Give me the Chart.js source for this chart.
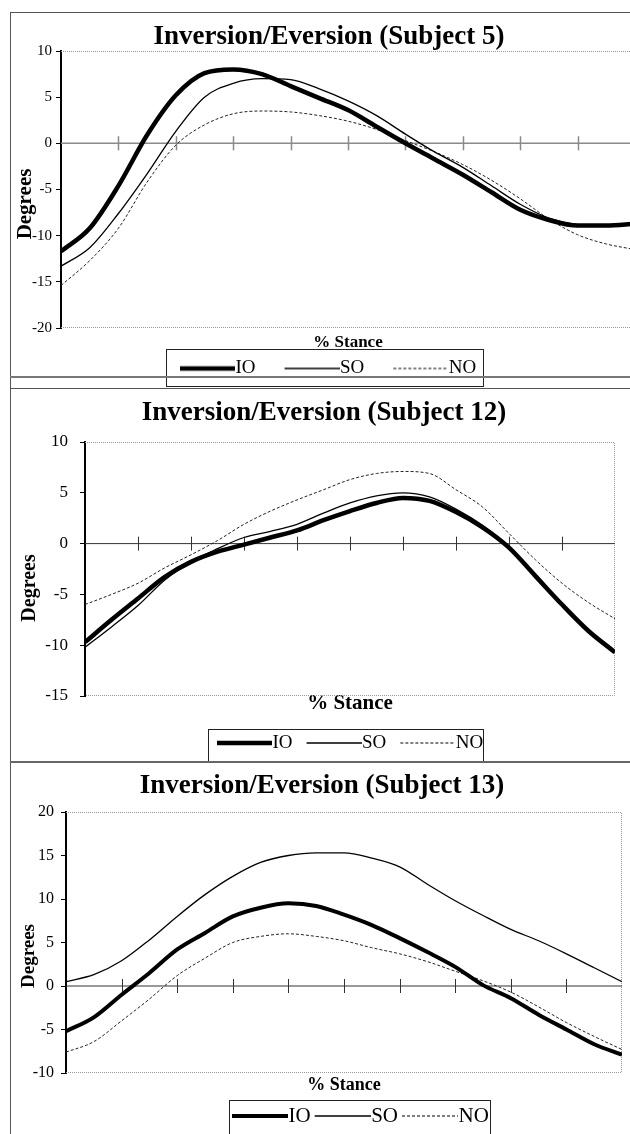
<!DOCTYPE html>
<html>
<head>
<meta charset="utf-8">
<script src="https://cdn.jsdelivr.net/npm/chart.js@4.4.1/dist/chart.umd.min.js"></script>
<style>
  html, body { margin:0; padding:0; background:#fff; overflow:hidden; }
  body { width:630px; height:1134px; position:relative; }
  canvas { position:absolute; left:0; }
  .ln { position:absolute; background:#555; }
</style>
</head>
<body>
<canvas id="c5"  width="650" height="388" style="top:0"></canvas>
<canvas id="c12" width="650" height="374" style="top:388px"></canvas>
<canvas id="c13" width="650" height="372" style="top:762px"></canvas>

<div class="ln" style="left:10px;top:12px;width:1px;height:1122px"></div>
<div class="ln" style="left:10px;top:12px;width:620px;height:1px"></div>
<div class="ln" style="left:10px;top:376px;width:620px;height:2px;background:#777"></div>
<div class="ln" style="left:10px;top:388px;width:620px;height:1px"></div>
<div class="ln" style="left:10px;top:761px;width:620px;height:2px;background:#666"></div>

<script>
// ---- data ----
const stancePct = [0,5,10,15,20,25,30,35,40,45,50,55,60,65,70,75,80,85,90,95,100];
const tickPct   = [10,20,30,40,50,60,70,80,90];
const seriesNames = ['IO','SO','NO'];

const s5IO = [-11.7,-9.2,-4.6,0.9,5.2,7.6,8.0,7.5,6.2,4.9,3.6,1.8,0.0,-1.7,-3.4,-5.3,-7.2,-8.3,-8.9,-8.9,-8.7];
const s5SO = [-13.3,-11.3,-7.6,-3.3,1.3,5.0,6.5,7.0,6.9,5.9,4.6,3.0,1.0,-0.9,-2.6,-4.6,-6.6,-8.1,-8.8,-8.9,-8.7];
const s5NO = [-15.4,-12.7,-9.2,-4.2,-0.2,2.0,3.2,3.5,3.4,3.0,2.4,1.5,0.3,-0.9,-2.3,-4.0,-6.0,-8.2,-9.9,-10.9,-11.5];

const s12IO = [-9.7,-7.5,-5.4,-3.3,-1.8,-0.8,-0.1,0.6,1.3,2.3,3.2,4.0,4.5,4.2,3.1,1.6,-0.4,-3.2,-6.0,-8.6,-10.7];
const s12SO = [-10.2,-8.2,-6.1,-3.6,-1.8,-0.5,0.6,1.2,1.9,3.0,4.0,4.7,5.0,4.6,3.4,1.8,-0.3,-3.1,-5.9,-8.6,-10.6];
const s12NO = [-6.0,-5.0,-3.9,-2.4,-1.1,0.3,1.9,3.2,4.3,5.3,6.3,6.9,7.1,6.9,5.3,3.6,1.0,-1.6,-3.9,-5.8,-7.4];

const s13IO = [-5.2,-3.6,-1.0,1.5,4.2,6.1,8.0,9.0,9.5,9.2,8.2,7.0,5.5,3.9,2.2,0.1,-1.4,-3.3,-5.0,-6.7,-7.9];
const s13SO = [0.5,1.3,2.9,5.3,8.0,10.5,12.6,14.2,15.0,15.3,15.3,14.7,13.7,11.7,9.8,8.1,6.5,5.2,3.7,2.1,0.5];
const s13NO = [-7.6,-6.4,-4.0,-1.5,1.2,3.2,5.0,5.7,6.0,5.7,5.2,4.4,3.7,2.8,1.7,0.6,-0.7,-2.4,-4.2,-5.8,-7.3];

Chart.defaults.font.family = "'Liberation Serif', 'Times New Roman', serif";
Chart.defaults.color = '#000';

// legend sample: a line image that reaches right up to the label text
function legendLine(width, dash, box, ext) {
  const c = document.createElement('canvas');
  c.width = box + 2 * ext;
  c.height = 10;
  const g = c.getContext('2d');
  g.strokeStyle = '#000';
  g.lineWidth = width;
  g.setLineDash(dash);
  g.beginPath();
  g.moveTo(ext, 5);
  g.lineTo(box + 2 * ext, 5);
  g.stroke();
  return c;
}

// frame, zero line with cross ticks, legend box, rotated y title
const panelPlugin = {
  id: 'panel',
  afterLayout(chart, args, o) {
    const lg = chart.legend;
    const pad = lg.options.labels.padding;
    const dx = o.legendX - pad - lg.left;
    lg.left += dx; lg.right += dx;
    lg.top = o.legendY - pad - o.legendFont / 2;
    lg.bottom = lg.top + 60;   // legend clips to its own box
    lg.height = 60;
  },
  beforeDatasetsDraw(chart, args, o) {
    const { ctx, chartArea: a, scales: { x, y } } = chart;
    ctx.save();
    ctx.strokeStyle = '#9a9a9a';
    ctx.lineWidth = 1;
    ctx.setLineDash([1, 1]);
    ctx.beginPath();
    ctx.moveTo(a.left, a.top + 0.5);
    ctx.lineTo(a.right - 0.5, a.top + 0.5);
    ctx.lineTo(a.right - 0.5, a.bottom - 0.5);
    ctx.lineTo(a.left, a.bottom - 0.5);
    ctx.stroke();

    const y0 = y.getPixelForValue(0);
    ctx.setLineDash([]);
    ctx.strokeStyle = o.axisColor;
    ctx.lineWidth = o.axisWidth;
    ctx.beginPath();
    ctx.moveTo(a.left, y0);
    ctx.lineTo(a.right, y0);
    tickPct.forEach(v => {
      const px = Math.round(x.getPixelForValue(v)) + 0.5;
      ctx.moveTo(px, y0 - 7);
      ctx.lineTo(px, y0 + 7);
    });
    ctx.stroke();
    ctx.restore();
  },
  afterDraw(chart, args, o) {
    const { ctx, chartArea: a } = chart;
    ctx.save();
    const [l, t, r, b] = o.legendBox;
    ctx.strokeStyle = '#222';
    ctx.lineWidth = 1;
    ctx.strokeRect(l + 0.5, t + 0.5, r - l, b - t);

    ctx.fillStyle = '#000';
    ctx.font = `bold ${o.yTitleSize}px 'Liberation Serif', 'Times New Roman', serif`;
    ctx.textAlign = 'center';
    ctx.textBaseline = 'middle';
    ctx.translate(o.yTitleX, (a.top + a.bottom) / 2 + o.yTitleShift);
    ctx.rotate(-Math.PI / 2);
    ctx.fillText(o.yTitle, 0, 0);
    ctx.restore();
  }
};

function makeChart(p, io, so, no) {
  const ext = Math.round(p.legendFont / 2) - 1;
  const widths = [p.ioWidth, 1.3, 1];
  const dashes = [[], [], [3, 2]];
  const colors = ['#000', '#000', '#222'];
  const values = [io, so, no];

  return new Chart(document.getElementById(p.id), {
    type: 'line',
    data: {
      labels: stancePct,
      datasets: seriesNames.map((name, i) => ({
        label: name,
        data: values[i],
        borderColor: colors[i],
        backgroundColor: colors[i],
        borderWidth: widths[i],
        borderDash: dashes[i],
        pointRadius: 0,
        pointStyle: legendLine(widths[i], dashes[i], 46, ext),
        cubicInterpolationMode: 'monotone',
        fill: false
      }))
    },
    options: {
      responsive: false,
      animation: false,
      events: [],
      layout: { padding: { left: p.padL, right: 650 - p.areaRight, top: 0, bottom: p.padB } },
      scales: {
        x: {
          type: 'linear', min: 0, max: 100,
          ticks: { display: false },
          grid: { display: false },
          border: { display: false },
          title: { display: true, text: '% Stance', padding: 0,
                   font: { size: p.xTitleSize, weight: 'bold', lineHeight: 1 } },
          afterFit(s) { s.height = p.hX; }
        },
        y: {
          min: p.yMin, max: p.yMax,
          ticks: { stepSize: 5, padding: p.tickPad, color: '#000', font: { size: p.tickSize } },
          grid: { display: true, drawOnChartArea: false, drawTicks: true, tickLength: 5, color: '#000' },
          border: { display: true, color: '#000', width: 2 },
          afterFit(s) { s.width = p.yW; }
        }
      },
      plugins: {
        title: {
          display: true, text: p.title, color: '#000',
          font: { size: 27, weight: 'bold', lineHeight: 1 },
          padding: p.titlePad
        },
        legend: {
          position: 'bottom',
          align: 'start',
          maxHeight: 1,
          labels: {
            usePointStyle: true, pointStyleWidth: 46,
            padding: p.legendPad, color: '#000',
            font: { size: p.legendFont }
          }
        },
        tooltip: { enabled: false },
        panel: {
          legendX: p.legendX, legendY: p.legendY, legendFont: p.legendFont,
          legendBox: p.legendBox,
          axisColor: p.axisColor, axisWidth: p.axisWidth,
          yTitle: 'Degrees', yTitleX: p.yTitleX, yTitleSize: p.yTitleSize, yTitleShift: p.yTitleShift
        }
      }
    },
    plugins: [panelPlugin]
  });
}

makeChart({
  id: 'c5', title: 'Inversion/Eversion (Subject 5)', yMin: -20, yMax: 10,
  padL: 23, yW: 38, areaRight: 635, padB: 35.5, titlePad: { top: 24, bottom: 0 },
  hX: 23.5, xTitleSize: 17, tickSize: 15, tickPad: 4,
  legendFont: 19, legendPad: 29, legendX: 180, legendY: 368.5, legendBox: [166, 349, 483, 386],
  yTitleX: 25.5, yTitleSize: 21, yTitleShift: 14.5,
  axisColor: '#8a8a8a', axisWidth: 1.5, ioWidth: 4.5
}, s5IO, s5SO, s5NO);

makeChart({
  id: 'c12', title: 'Inversion/Eversion (Subject 12)', yMin: -15, yMax: 10,
  padL: 33, yW: 52, areaRight: 615, padB: 47, titlePad: { top: 12, bottom: 15 },
  hX: 18, xTitleSize: 21, tickSize: 17, tickPad: 12,
  legendFont: 19, legendPad: 14, legendX: 217, legendY: 355, legendBox: [208, 341, 483, 373],
  yTitleX: 30, yTitleSize: 20, yTitleShift: 19,
  axisColor: '#333', axisWidth: 1, ioWidth: 4.5
}, s12IO, s12SO, s12NO);

makeChart({
  id: 'c13', title: 'Inversion/Eversion (Subject 13)', yMin: -10, yMax: 20,
  padL: 22, yW: 44, areaRight: 622, padB: 38.5, titlePad: { top: 11, bottom: 12 },
  hX: 21.5, xTitleSize: 18, tickSize: 16, tickPad: 7,
  legendFont: 21, legendPad: 4, legendX: 232, legendY: 354, legendBox: [229, 338, 490, 380],
  yTitleX: 29.5, yTitleSize: 19, yTitleShift: 13.5,
  axisColor: '#333', axisWidth: 1, ioWidth: 4
}, s13IO, s13SO, s13NO);
</script>
</body>
</html>
